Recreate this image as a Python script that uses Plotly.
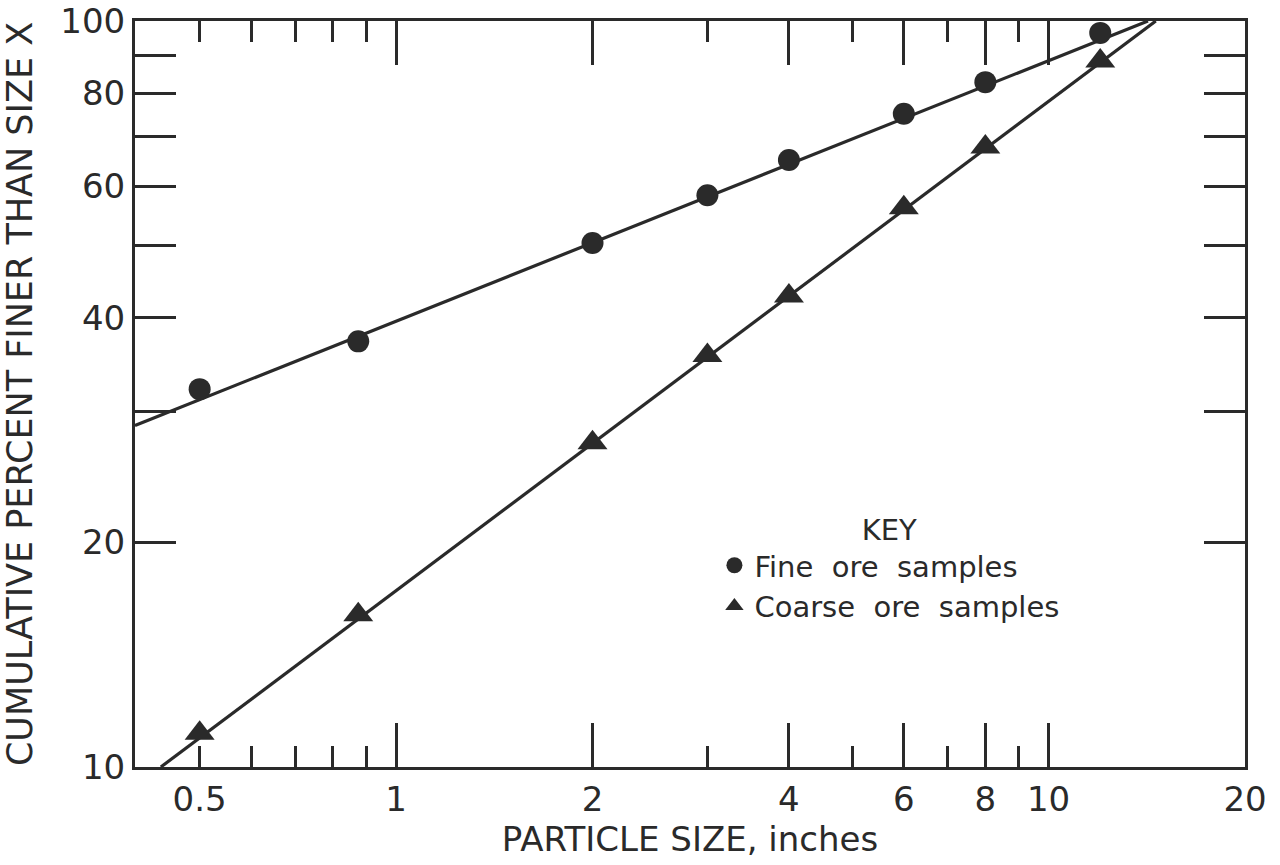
import math
import plotly.graph_objects as go

# ---- data ----
size_fine = [0.5, 0.875, 2, 3, 4, 6, 8, 12]
pct_fine = [32.1, 37.2, 50.4, 58.4, 65.1, 75.1, 82.8, 96.4]
size_coarse = [0.5, 0.875, 2, 3, 4, 6, 8, 12]
pct_coarse = [11.1, 16.0, 27.2, 35.6, 42.8, 56.2, 67.8, 88.4]

fit_fine_x = [0.398, 14.2]
fit_fine_y = [28.7, 100]
fit_coarse_x = [0.436, 14.6]
fit_coarse_y = [10, 100]

x_label_vals = [0.5, 1, 2, 4, 6, 8, 10, 20]
x_label_text = ["0.5", "1", "2", "4", "6", "8", "10", "20"]
x_major_ticks = [1, 2, 4, 6, 8, 10]
x_minor_ticks = [0.5, 0.6, 0.7, 0.8, 0.9, 3, 5, 7, 9]
y_label_vals = [10, 20, 40, 60, 80, 100]
y_label_text = ["10", "20", "40", "60", "80", "100"]
y_minor_ticks = [30, 50, 70, 90]

x_range = [0.398, 20]
y_range = [10, 100]

INK = "#2a2a2a"
FONT = "DejaVu Sans"
NB = "\u00a0"

fig = go.Figure()

fig.add_trace(go.Scatter(x=fit_fine_x, y=fit_fine_y, mode="lines",
                         line=dict(color=INK, width=3.2), showlegend=False, hoverinfo="skip"))
fig.add_trace(go.Scatter(x=fit_coarse_x, y=fit_coarse_y, mode="lines",
                         line=dict(color=INK, width=3.2), showlegend=False, hoverinfo="skip"))
fig.add_trace(go.Scatter(x=size_fine, y=pct_fine, mode="markers",
                         name=f"Fine{NB}{NB}ore{NB}{NB}samples",
                         marker=dict(symbol="circle", size=22, color=INK)))
fig.add_trace(go.Scatter(x=size_coarse, y=pct_coarse, mode="markers",
                         name=f"Coarse{NB}{NB}ore{NB}{NB}samples",
                         marker=dict(symbol="triangle-up", size=26, color=INK)))
# helper trace so the overlay axis carrying the long x ticks is drawn
fig.add_trace(go.Scatter(x=[x_range[0]], y=[y_range[0]], xaxis="x2", mode="markers",
                         marker=dict(opacity=0), showlegend=False, hoverinfo="skip"))

lx = [math.log10(v) for v in x_range]
ly = [math.log10(v) for v in y_range]

fig.update_layout(
    width=1280, height=865,
    margin=dict(l=135, r=35, t=21, b=98),
    paper_bgcolor="white", plot_bgcolor="white",
    font=dict(family=FONT, color=INK),
    xaxis=dict(
        type="log", range=lx, showgrid=False, zeroline=False, automargin=False,
        tickmode="array", tickvals=x_label_vals, ticktext=x_label_text,
        ticks="", tickfont=dict(size=34, color=INK), ticklabeloverflow="allow",
        showline=True, linewidth=3, linecolor=INK, mirror="allticks",
        minor=dict(tickmode="array", tickvals=x_minor_ticks, ticks="inside",
                   ticklen=21, tickwidth=2.5, tickcolor=INK, showgrid=False),
        title=dict(text="PARTICLE SIZE, inches", font=dict(size=34, color=INK), standoff=10),
    ),
    xaxis2=dict(
        type="log", range=lx, overlaying="x", anchor="y", side="bottom", automargin=False,
        showgrid=False, zeroline=False, showticklabels=False,
        tickmode="array", tickvals=x_major_ticks, ticks="inside",
        ticklen=44, tickwidth=2.5, tickcolor=INK,
        showline=True, linewidth=3, linecolor=INK, mirror="allticks",
    ),
    yaxis=dict(
        type="log", range=ly, showgrid=False, zeroline=False, automargin=False,
        tickmode="array", tickvals=y_label_vals, ticktext=y_label_text,
        ticks="inside", ticklen=41, tickwidth=2.5, tickcolor=INK,
        tickfont=dict(size=34, color=INK), ticklabeloverflow="allow",
        showline=True, linewidth=3, linecolor=INK, mirror="allticks",
        minor=dict(tickmode="array", tickvals=y_minor_ticks, ticks="inside",
                   ticklen=20, tickwidth=2.5, tickcolor=INK, showgrid=False),
        title=dict(text="CUMULATIVE PERCENT FINER THAN SIZE X",
                   font=dict(size=35, color=INK), standoff=40),
    ),
    legend=dict(
        x=0.522, y=0.355, xanchor="left", yanchor="top",
        bgcolor="rgba(0,0,0,0)", borderwidth=0,
        font=dict(size=29, color=INK, family=FONT),
        title=dict(text="KEY", side="top center", font=dict(size=29, color=INK)),
        itemsizing="trace", tracegroupgap=0,
    ),
    showlegend=True,
)

fig.write_html("out.html",
               config={"displayModeBar": False},
               post_script="document.body.style.margin='0';document.body.style.overflow='hidden';")
